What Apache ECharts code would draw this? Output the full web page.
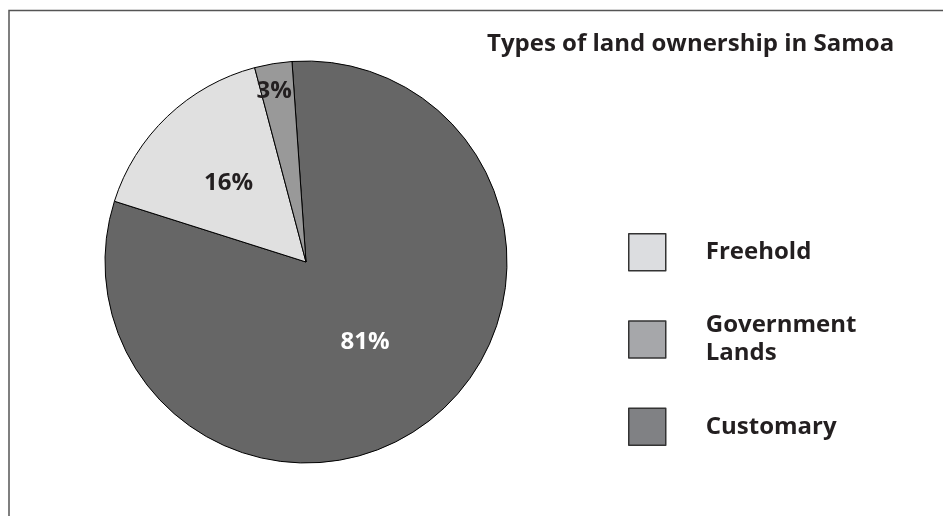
<!DOCTYPE html>
<html>
<head>
<meta charset="utf-8">
<script src="https://cdn.jsdelivr.net/npm/echarts@6/dist/echarts.min.js"></script>
<style>html,body{margin:0;padding:0;background:#fff}#c{width:943px;height:516px}</style>
</head>
<body>
<div id="c"></div>
<script>
var titleText = 'Types of land ownership in Samoa';
var categories = ['Customary', 'Freehold', 'Government\nLands'];
var values = [81, 16, 3];
var legendOrder = ['Freehold', 'Government\nLands', 'Customary'];

var sliceColors = ['#666666', '#e0e0e0', '#999999'];
var legendColors = {'Freehold': '#dcdde0', 'Government\nLands': '#a6a7aa', 'Customary': '#808184'};
var labelColors = ['#ffffff', '#231f20', '#231f20'];
var labelShift = [[-5, -1], [-6, -4], [-15, -69]];
var FONT = '"Open Sans", "Noto Sans", sans-serif';

var chart = echarts.init(document.getElementById('c'), null, {renderer: 'canvas'});
chart.setOption({
  animation: false,
  backgroundColor: '#ffffff',
  title: {
    text: titleText,
    left: 482, top: 27,
    textStyle: {fontFamily: FONT, fontWeight: 'bold', fontSize: 24, color: '#231f20'}
  },
  legend: {
    orient: 'vertical',
    left: 628, top: 233,
    padding: 0,
    itemWidth: 37, itemHeight: 37, itemGap: 40,
    icon: 'rect',
    selectedMode: false,
    data: legendOrder.map(function (n) {
      return {name: n, itemStyle: {color: legendColors[n], borderColor: '#333333', borderWidth: 1.5}};
    }),
    textStyle: {fontFamily: FONT, fontWeight: 'bold', fontSize: 24, color: '#231f20', lineHeight: 28, padding: [0, 0, 0, 35]}
  },
  graphic: [{
    type: 'polyline',
    shape: {points: [[9, 516], [9, 10.5], [943, 10.5]]},
    style: {stroke: '#555555', lineWidth: 1.5, fill: null},
    silent: true
  }],
  series: [{
    type: 'pie',
    center: [306, 262],
    radius: [0, 201],
    startAngle: 94,
    clockwise: true,
    silent: true,
    label: {
      show: true, position: 'inside',
      formatter: '{c}%',
      fontFamily: FONT, fontWeight: 'bold', fontSize: 24
    },
    labelLine: {show: false},
    labelLayout: function (p) {
      return {dx: labelShift[p.dataIndex][0], dy: labelShift[p.dataIndex][1]};
    },
    itemStyle: {borderColor: '#000000', borderWidth: 1},
    data: categories.map(function (c, i) {
      return {name: c, value: values[i], itemStyle: {color: sliceColors[i]}, label: {color: labelColors[i]}};
    })
  }]
});
</script>
</body>
</html>
